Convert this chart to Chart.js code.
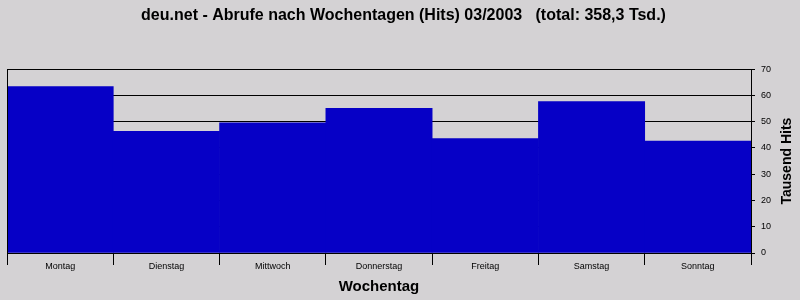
<!DOCTYPE html>
<html>
<head>
<meta charset="utf-8">
<script src="https://cdn.jsdelivr.net/npm/chart.js@4/dist/chart.umd.min.js"></script>
<style>
  html, body { margin: 0; padding: 0; background: #d4d2d4; }
  #wrap { width: 800px; height: 300px; }
</style>
</head>
<body>
<div id="wrap"><canvas id="chart"></canvas></div>
<script>
const TITLE = "deu.net - Abrufe nach Wochentagen (Hits) 03/2003   (total: 358,3 Tsd.)";
const X_TITLE = "Wochentag";
const Y_TITLE = "Tausend Hits";
const DAYS = ["Montag", "Dienstag", "Mittwoch", "Donnerstag", "Freitag", "Samstag", "Sonntag"];
const HITS_THOUSANDS = [63.4, 46.3, 49.6, 55.1, 43.6, 57.7, 42.6];
const Y_MIN = 0;
const Y_MAX = 70;
const Y_STEP = 10;

const FONT = "'Liberation Sans', Arial, sans-serif";
const BAR_COLOR = "#0600c6";

// left edge of the plot frame + y title reading bottom-to-top on the right
const framePlugin = {
  id: "frame",
  afterDraw(chart) {
    const { ctx, chartArea } = chart;
    const x = Math.round(chartArea.left) + 0.5;
    ctx.save();
    ctx.strokeStyle = "#000";
    ctx.lineWidth = 1;
    ctx.beginPath();
    ctx.moveTo(x, Math.round(chartArea.top));
    ctx.lineTo(x, Math.round(chartArea.bottom) + 1);
    ctx.stroke();

    ctx.translate(787, (chartArea.top + chartArea.bottom) / 2);
    ctx.rotate(-Math.PI / 2);
    ctx.fillStyle = "#000";
    ctx.font = `bold 14px ${FONT}`;
    ctx.textAlign = "center";
    ctx.textBaseline = "middle";
    ctx.fillText(Y_TITLE, 0, 0);
    ctx.restore();
  },
};

new Chart(document.getElementById("chart"), {
  type: "bar",
  data: {
    labels: DAYS,
    datasets: [{
      data: HITS_THOUSANDS,
      backgroundColor: BAR_COLOR,
      borderWidth: 0,
      barPercentage: 1,
      categoryPercentage: 1,
    }],
  },
  options: {
    responsive: true,
    maintainAspectRatio: false,
    animation: false,
    layout: { padding: { left: 7, right: 0, top: 0, bottom: 0 } },
    plugins: {
      legend: { display: false },
      tooltip: { enabled: false },
      title: {
        display: true,
        text: TITLE,
        color: "#000",
        font: { family: FONT, size: 16, weight: "bold" },
        padding: { top: 6, bottom: 44 },
      },
    },
    scales: {
      x: {
        grid: {
          offset: true,
          drawOnChartArea: false,
          drawTicks: true,
          tickLength: 12,
          color: "#000",
        },
        border: { display: true, color: "#000" },
        ticks: {
          color: "#000",
          font: { family: FONT, size: 9 },
          padding: -4,
          maxRotation: 0,
          autoSkip: false,
        },
        title: {
          display: true,
          text: X_TITLE,
          color: "#000",
          font: { family: FONT, size: 15, weight: "bold" },
          padding: { top: 2, bottom: 4 },
        },
        afterFit(scale) { scale.height = 47; },
      },
      y: {
        position: "right",
        min: Y_MIN,
        max: Y_MAX,
        grid: {
          color: "#000",
          drawTicks: true,
          tickLength: 4,
        },
        border: { display: true, color: "#000" },
        ticks: {
          stepSize: Y_STEP,
          color: "#000",
          font: { family: FONT, size: 9 },
          padding: 6,
        },
        afterFit(scale) { scale.width = 49; },
      },
    },
  },
  plugins: [framePlugin],
});
</script>
</body>
</html>
